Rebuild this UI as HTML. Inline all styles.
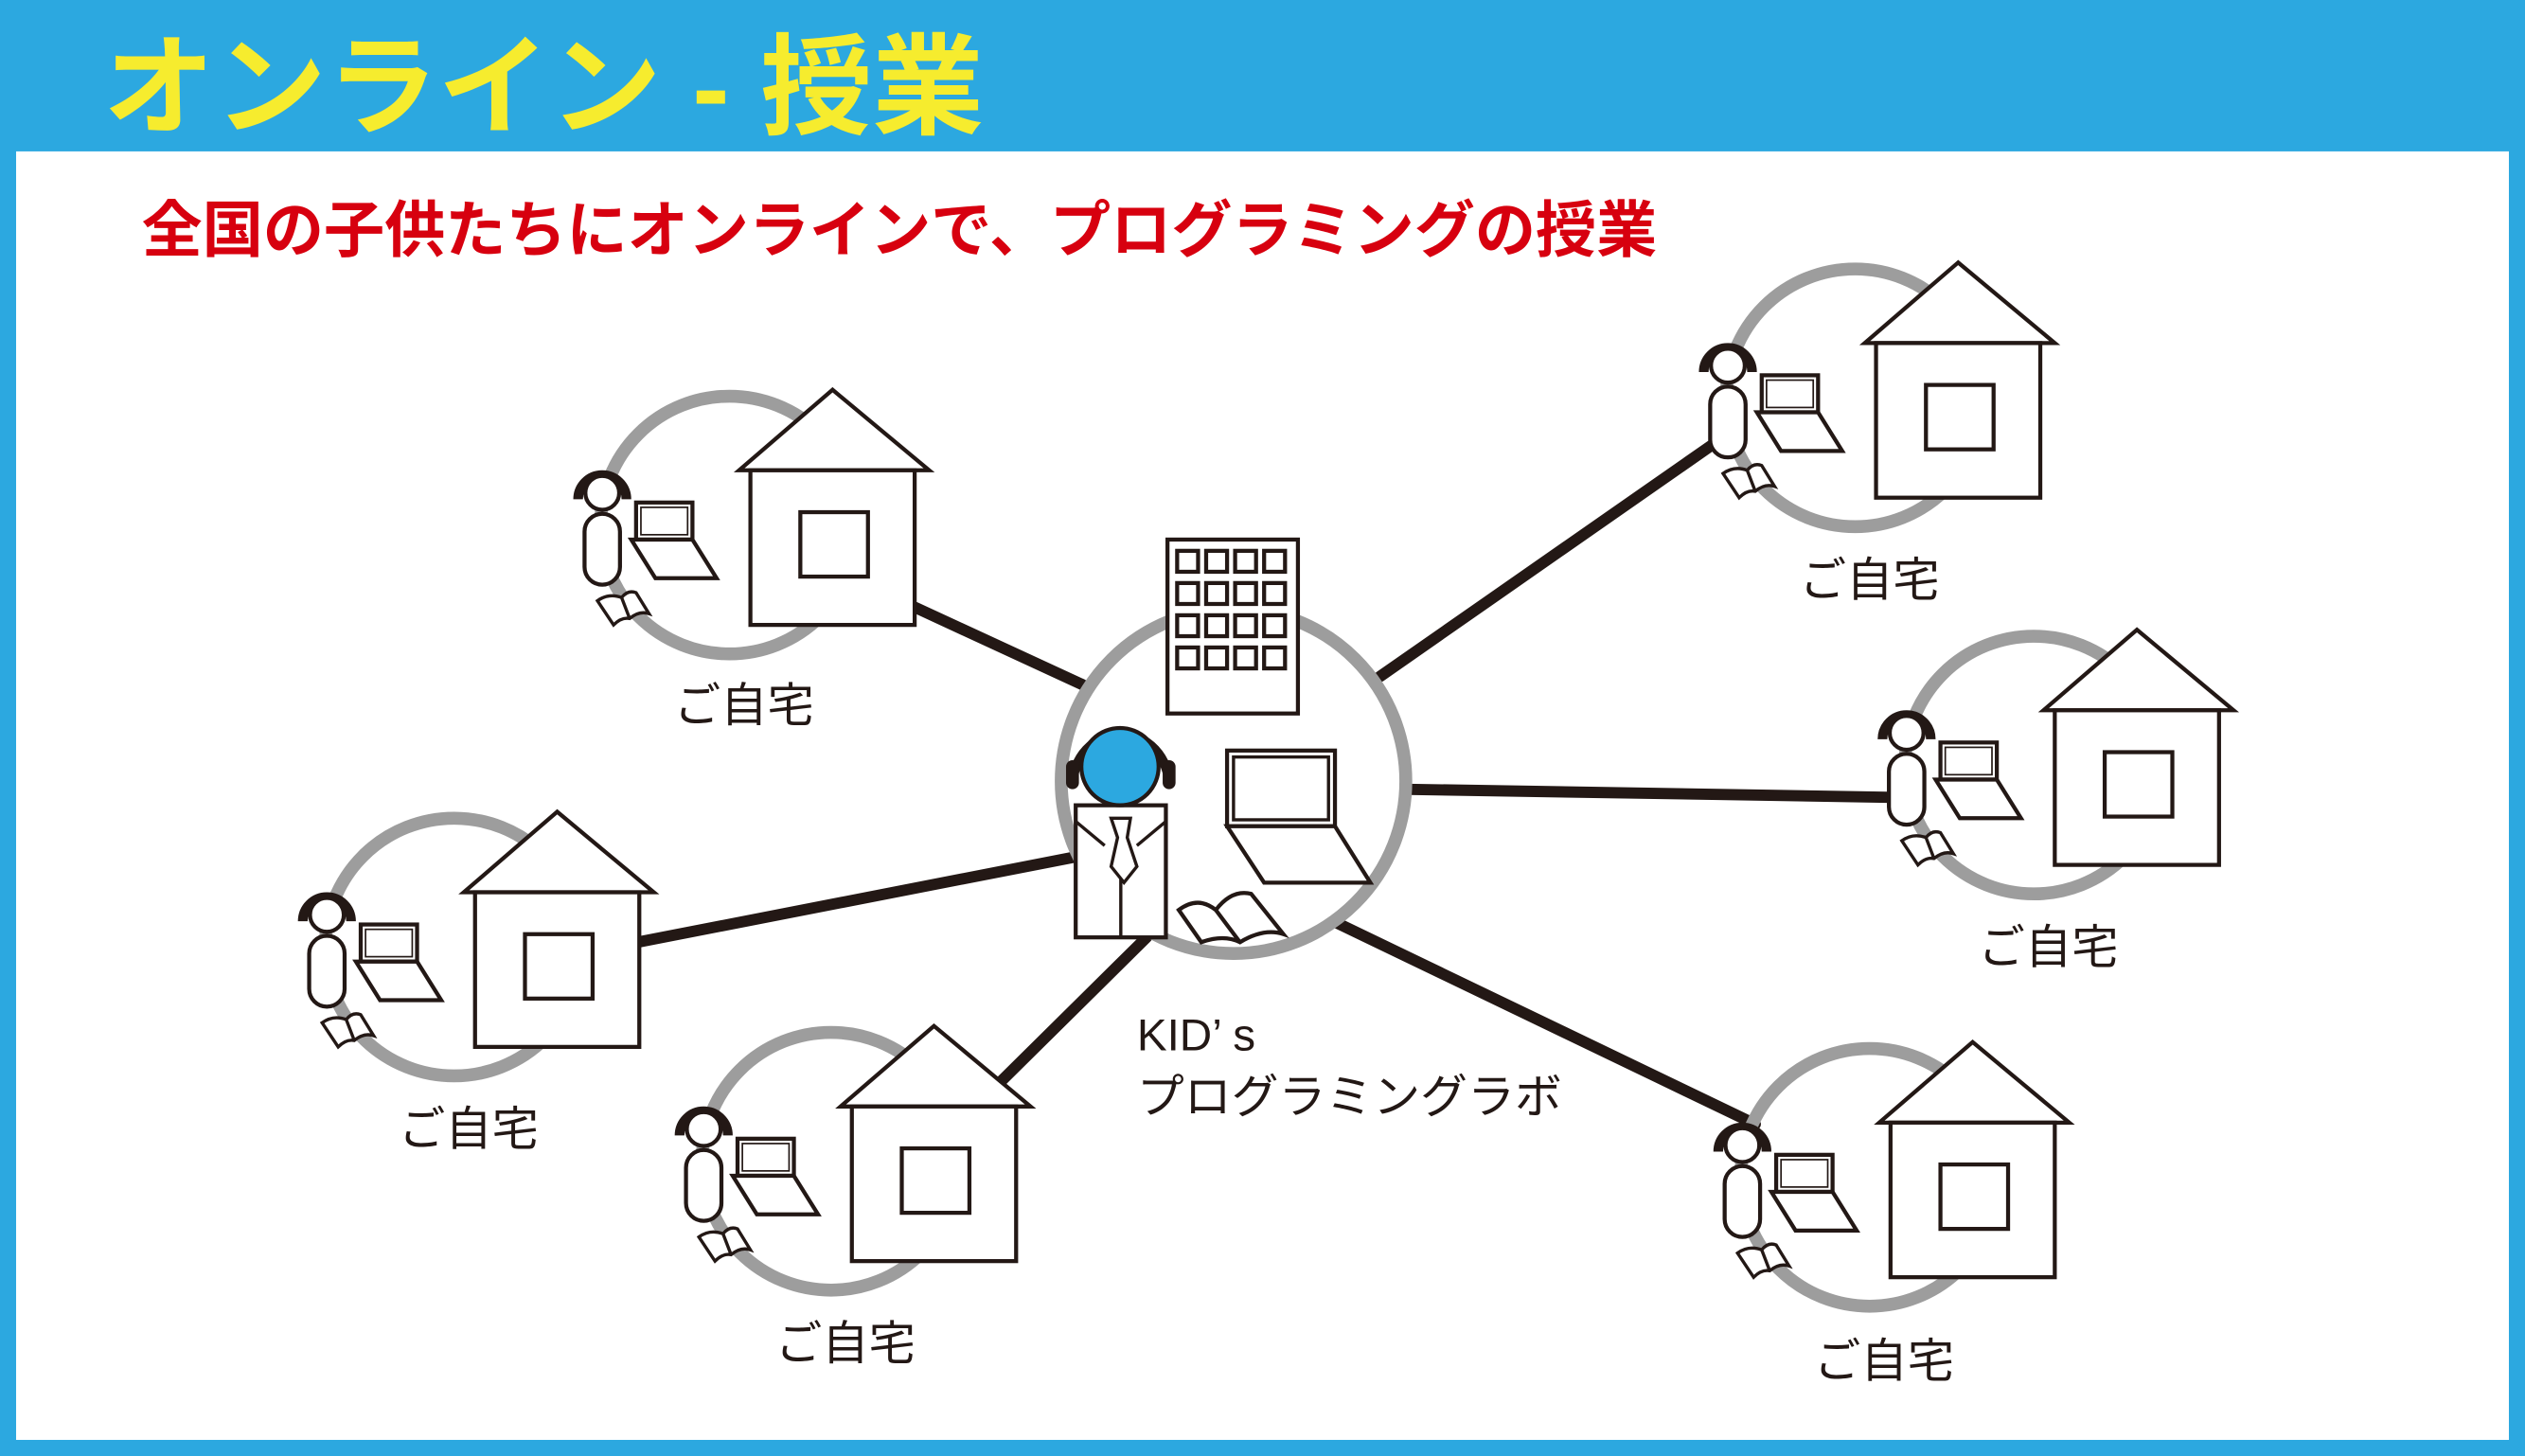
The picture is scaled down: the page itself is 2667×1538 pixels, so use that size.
<!DOCTYPE html>
<html><head><meta charset="utf-8"><style>html,body{margin:0;padding:0;background:#fff}svg{display:block}</style></head>
<body>
<svg width="2667" height="1538" viewBox="0 0 1568 904" preserveAspectRatio="none" xmlns="http://www.w3.org/2000/svg" font-family="Liberation Sans, Noto Sans CJK JP, sans-serif">
<defs>
<g id="unit">
  <circle cx="0" cy="0" r="80" fill="none" stroke="#9d9d9d" stroke-width="8"/>
  <polygon points="64,-84 6,-34 124,-34" fill="#fff" stroke="#231815" stroke-width="2.5"/>
  <rect x="13" y="-34" width="102" height="96" fill="#fff" stroke="#231815" stroke-width="2.5"/>
  <rect x="44" y="-8" width="42" height="40" fill="#fff" stroke="#231815" stroke-width="2.5"/>
  <rect x="-90" y="-7" width="22" height="44" rx="11" fill="#fff" stroke="#231815" stroke-width="2.5"/>
  <path d="M-94,-16 A15,15 0 0 1 -64,-16" fill="none" stroke="#231815" stroke-width="6"/>
  <circle cx="-79" cy="-20" r="10.5" fill="#fff" stroke="#231815" stroke-width="2.5"/>
  <rect x="-58" y="-14" width="35" height="23" fill="#fff" stroke="#231815" stroke-width="2.5"/>
  <rect x="-55" y="-11" width="29" height="17" fill="none" stroke="#231815" stroke-width="1"/>
  <polygon points="-61,9 -23,9 -8,33 -46,33" fill="#fff" stroke="#231815" stroke-width="2.5"/>
  <path d="M-82,47 L-72,62 Q-67,57 -62,58 Q-56,53 -50,55 L-58,42 Q-63,40 -67,45 Q-75,42 -82,47 Z M-67,45 L-62,58" fill="#fff" stroke="#231815" stroke-width="2"/>
</g>
</defs>
<rect x="0" y="0" width="1568" height="904" fill="#2ca8e0"/>
<rect x="10" y="94" width="1548" height="800" fill="#fff"/>
<text x="64" y="78" font-size="68" font-weight="bold" fill="#f6ec2e" textLength="547" lengthAdjust="spacingAndGlyphs">オンライン - 授業</text>
<text x="88" y="156" font-size="38" font-weight="bold" fill="#d7000f" textLength="941" lengthAdjust="spacingAndGlyphs">全国の子供たちにオンラインで、プログラミングの授業</text>

<g stroke="#231815" stroke-width="7" stroke-linecap="round">
  <line x1="568" y1="377" x2="672" y2="425"/>
  <line x1="857" y1="420" x2="1065" y2="275"/>
  <line x1="870" y1="490" x2="1172" y2="495"/>
  <line x1="396" y1="585" x2="668" y2="532"/>
  <line x1="620" y1="673" x2="712" y2="582"/>
  <line x1="828" y1="572" x2="1090" y2="698"/>
</g>

<use href="#unit" x="453" y="326"/>
<use href="#unit" x="1152" y="247"/>
<use href="#unit" x="1263" y="475"/>
<use href="#unit" x="282" y="588"/>
<use href="#unit" x="516" y="721"/>
<use href="#unit" x="1161" y="731"/>

<g font-size="29" fill="#231815" text-anchor="middle">
  <text x="462" y="448">ご自宅</text>
  <text x="1161" y="370">ご自宅</text>
  <text x="1272" y="598">ご自宅</text>
  <text x="291" y="711">ご自宅</text>
  <text x="525" y="844">ご自宅</text>
  <text x="1170" y="855">ご自宅</text>
</g>

<!-- central -->
<circle cx="766" cy="485" r="107" fill="#fff" stroke="#9d9d9d" stroke-width="8"/>
<rect x="725" y="335" width="81" height="108" fill="#fff" stroke="#231815" stroke-width="2.5"/>
<g fill="none" stroke="#231815" stroke-width="2.5">
  <rect x="731" y="342" width="13" height="13"/><rect x="749" y="342" width="13" height="13"/><rect x="767" y="342" width="13" height="13"/><rect x="785" y="342" width="13" height="13"/>
  <rect x="731" y="362" width="13" height="13"/><rect x="749" y="362" width="13" height="13"/><rect x="767" y="362" width="13" height="13"/><rect x="785" y="362" width="13" height="13"/>
  <rect x="731" y="382" width="13" height="13"/><rect x="749" y="382" width="13" height="13"/><rect x="767" y="382" width="13" height="13"/><rect x="785" y="382" width="13" height="13"/>
  <rect x="731" y="402" width="13" height="13"/><rect x="749" y="402" width="13" height="13"/><rect x="767" y="402" width="13" height="13"/><rect x="785" y="402" width="13" height="13"/>
</g>
<rect x="762" y="466" width="67" height="47" fill="#fff" stroke="#231815" stroke-width="2.5"/>
<rect x="766" y="470" width="59" height="39" fill="none" stroke="#231815" stroke-width="2"/>
<polygon points="762,513 829,513 851,548 785,548" fill="#fff" stroke="#231815" stroke-width="2.5"/>
<path d="M746,585 L732,565 Q744,556 755,565 Q765,552 777,555 L797,580 Q785,576 770,585 Q760,580 746,585 Z M755,565 L770,585" fill="#fff" stroke="#231815" stroke-width="2.5"/>
<rect x="668" y="500" width="56" height="82" fill="#fff" stroke="#231815" stroke-width="2.5"/>
<line x1="696" y1="540" x2="696" y2="582" stroke="#231815" stroke-width="2"/>
<path d="M668,510 L686,525 M724,510 L706,525 M690,508 L702,508 L700,520 L706,538 L698,548 L690,538 L694,520 Z" fill="#fff" stroke="#231815" stroke-width="2"/>
<path d="M666,488 A30,32 0 0 1 726,488" fill="none" stroke="#231815" stroke-width="6"/>
<rect x="662" y="472" width="8" height="18" rx="4" fill="#231815"/>
<rect x="722" y="472" width="8" height="18" rx="4" fill="#231815"/>
<circle cx="695.5" cy="476" r="24" fill="#2ca8e0" stroke="#231815" stroke-width="2.5"/>

<text x="706" y="652" font-size="28" fill="#231815">KID’ s</text>
<text x="706" y="691" font-size="29" fill="#231815" textLength="264" lengthAdjust="spacingAndGlyphs">プログラミングラボ</text>
</svg>
</body></html>
